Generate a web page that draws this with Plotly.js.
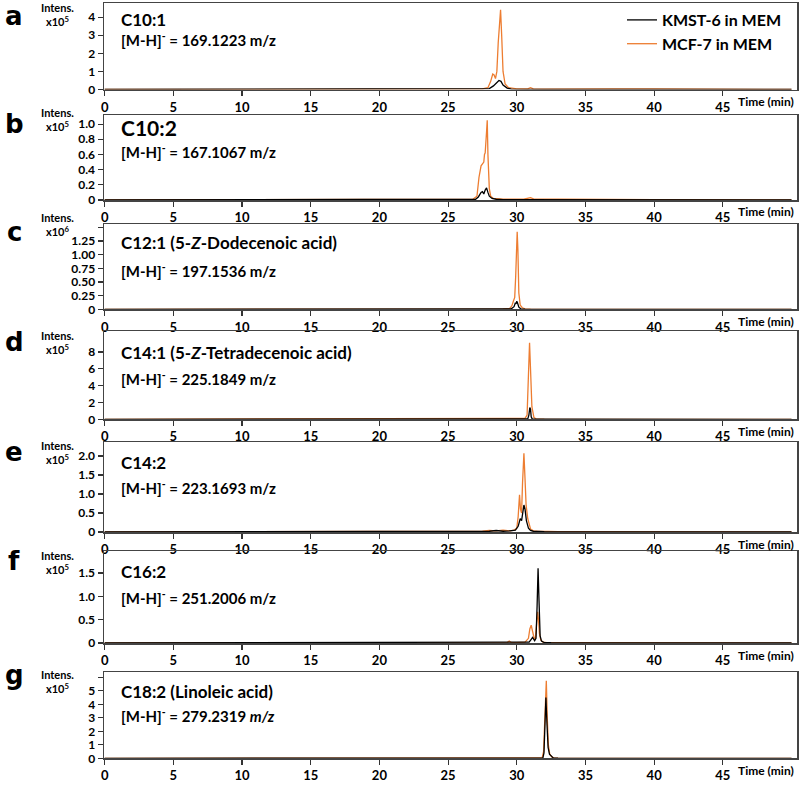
<!DOCTYPE html>
<html><head><meta charset="utf-8">
<script src="https://cdn.plot.ly/plotly-3.0.1.min.js"></script>
<style>html,body{margin:0;padding:0;background:#fff}#chart{width:800px;height:785px}</style>
</head><body><div id="chart"></div>
<script>
// ---------------- DATA ----------------
const seriesNames = ["KMST-6 in MEM", "MCF-7 in MEM"];
const panelLetters = ["a","b","c","d","e","f","g"];
const panelNames = ["C10:1","C10:2","C12:1 (5-<i>Z</i>-Dodecenoic acid)","C14:1 (5-<i>Z</i>-Tetradecenoic acid)","C14:2","C16:2","C18:2 (Linoleic acid)"];
const panelMz = ["169.1223 m/z","167.1067 m/z","197.1536 m/z","225.1849 m/z","223.1693 m/z","251.2006 m/z","279.2319 <i>m/z</i>"];
const panelExp = ["5","5","6","5","5","5","5"];
const xTickVals = [0,5,10,15,20,25,30,35,40,45];

// panel a
const tKmstA = [0, 27.5, 28.0, 28.3, 28.5, 28.7, 28.85, 29.0, 29.3, 29.6, 31, 50];
const kmstA  = [0, 0.01, 0.05, 0.2, 0.35, 0.5, 0.45, 0.25, 0.08, 0.02, 0.01, 0];
const tMcfA  = [0, 26, 27.5, 27.9, 28.1, 28.25, 28.35, 28.45, 28.55, 28.65, 28.75, 28.82, 28.9, 29.0, 29.15, 29.4, 30.0, 30.8, 31.0, 31.2, 32, 35, 37, 40, 43, 50];
const mcfA   = [0, 0.01, 0.03, 0.1, 0.45, 0.85, 0.8, 0.6, 1.0, 2.6, 4.1, 4.4, 3.0, 1.0, 0.3, 0.1, 0.04, 0.03, 0.1, 0.03, 0.02, 0.04, 0.03, 0.03, 0.01, 0];
// panel b
const tKmstB = [0, 26, 27.0, 27.2, 27.4, 27.5, 27.6, 27.7, 27.8, 27.9, 28.0, 28.2, 28.5, 29, 50];
const kmstB  = [0, 0.005, 0.01, 0.04, 0.1, 0.11, 0.08, 0.13, 0.16, 0.1, 0.05, 0.02, 0.01, 0.005, 0];
const tMcfB  = [0, 20, 25, 26.8, 27.1, 27.25, 27.4, 27.5, 27.6, 27.65, 27.7, 27.8, 27.85, 27.9, 28.0, 28.1, 28.3, 29, 30.5, 31.0, 31.3, 33, 36, 40, 50];
const mcfB   = [0, 0.005, 0.01, 0.01, 0.05, 0.3, 0.45, 0.47, 0.5, 0.6, 0.62, 0.9, 1.05, 0.6, 0.15, 0.05, 0.02, 0.01, 0.01, 0.03, 0.01, 0.01, 0.01, 0.005, 0];
// panel c
const tKmstC = [0, 29.0, 29.6, 29.8, 29.9, 29.95, 30.0, 30.05, 30.15, 30.3, 30.6, 50];
const kmstC  = [0, 0.005, 0.01, 0.05, 0.12, 0.1, 0.15, 0.12, 0.04, 0.01, 0.005, 0];
const tMcfC  = [0, 25, 29.0, 29.5, 29.65, 29.75, 29.85, 29.92, 29.98, 30.03, 30.08, 30.15, 30.25, 30.4, 30.6, 31, 50];
const mcfC   = [0, 0.005, 0.01, 0.02, 0.07, 0.15, 0.22, 0.6, 1.2, 1.42, 1.1, 0.3, 0.08, 0.03, 0.01, 0.005, 0];
// panel d
const tKmstD = [0, 30.6, 30.8, 30.88, 30.95, 31.0, 31.05, 31.12, 31.2, 31.5, 50];
const kmstD  = [0, 0.02, 0.05, 0.5, 1.4, 1.2, 0.3, 0.05, 0.02, 0.01, 0];
const tMcfD  = [0, 27, 30.0, 30.6, 30.75, 30.85, 30.93, 31.0, 31.1, 31.25, 31.4, 32, 50];
const mcfD   = [0, 0.03, 0.05, 0.1, 0.5, 4.5, 9.1, 6.0, 1.5, 0.2, 0.05, 0.02, 0];
// panel e
const tKmstE = [0, 27, 28.0, 28.5, 29.0, 29.5, 29.9, 30.1, 30.25, 30.35, 30.45, 30.52, 30.6, 30.7, 30.85, 31.0, 31.2, 32, 50];
const kmstE  = [0, 0.01, 0.02, 0.04, 0.02, 0.03, 0.05, 0.15, 0.35, 0.3, 0.55, 0.71, 0.6, 0.3, 0.1, 0.04, 0.02, 0.01, 0];
const tMcfE  = [0, 26, 27.5, 28.0, 28.5, 29.0, 29.5, 29.8, 30.0, 30.1, 30.2, 30.27, 30.35, 30.42, 30.52, 30.6, 30.68, 30.8, 30.9, 31.0, 31.2, 31.5, 33, 50];
const mcfE   = [0, 0.01, 0.02, 0.04, 0.03, 0.05, 0.03, 0.05, 0.1, 0.4, 0.98, 0.6, 0.5, 1.3, 2.07, 1.4, 0.7, 0.35, 0.2, 0.08, 0.03, 0.02, 0.01, 0];
// panel f
const tKmstF = [0, 30.5, 30.9, 31.05, 31.15, 31.3, 31.4, 31.48, 31.55, 31.62, 31.7, 31.8, 32.0, 32.5, 50];
const kmstF  = [0, 0.005, 0.02, 0.08, 0.12, 0.05, 0.1, 0.8, 1.6, 0.9, 0.15, 0.04, 0.01, 0.005, 0];
const tMcfF  = [0, 28, 29.3, 29.45, 29.6, 30, 30.6, 30.85, 30.95, 31.05, 31.15, 31.25, 31.35, 31.45, 31.52, 31.58, 31.65, 31.75, 31.9, 32.2, 33, 50];
const mcfF   = [0, 0.005, 0.01, 0.04, 0.01, 0.01, 0.02, 0.1, 0.3, 0.38, 0.25, 0.12, 0.08, 0.35, 0.67, 0.5, 0.2, 0.06, 0.02, 0.01, 0.005, 0];
// panel g
const tKmstG = [0, 31.5, 31.9, 31.98, 32.05, 32.12, 32.2, 32.28, 32.38, 32.5, 32.65, 33, 50];
const kmstG  = [0, 0.005, 0.02, 0.4, 3.0, 4.5, 2.5, 0.8, 0.3, 0.15, 0.03, 0.01, 0];
const tMcfG  = [0, 31.5, 31.85, 31.95, 32.05, 32.15, 32.22, 32.3, 32.4, 32.55, 32.7, 33, 50];
const mcfG   = [0, 0.01, 0.03, 0.5, 3.5, 5.75, 3.0, 1.0, 0.3, 0.1, 0.03, 0.01, 0];

// y tick values / labels per panel
const yTickValsA = [0,1,2,3,4];            const yTickTextA = ["0","1","2","3","4"];
const yTickValsB = [0,0.2,0.4,0.6,0.8,1.0]; const yTickTextB = ["0","0.2","0.4","0.6","0.8","1.0"];
const yTickValsC = [0,0.25,0.5,0.75,1.0,1.25]; const yTickTextC = ["0","0.25","0.50","0.75","1.00","1.25"];
const yTickValsD = [0,2,4,6,8];            const yTickTextD = ["0","2","4","6","8"];
const yTickValsE = [0,0.5,1.0,1.5,2.0];    const yTickTextE = ["0","0.5","1.0","1.5","2.0"];
const yTickValsF = [0,0.5,1.0,1.5];        const yTickTextF = ["0","0.5","1.0","1.5"];
const yTickValsG = [0,1,2,3,4,5];          const yTickTextG = ["0","1","2","3","4","5"];
const yMinorStep = [null, null, 0.25, null, null, null, 1];
const yMaxes = [4.78, 1.12, 1.56, 10.5, 2.37, 1.97, 6.4];

// ---------------- BUILD ----------------
const W = 800, H = 785;
const BLACK = "#000000", ORANGE = "#ED7D31";
const FONT = "Lato, 'Open Sans', sans-serif";
const kmstT = [tKmstA,tKmstB,tKmstC,tKmstD,tKmstE,tKmstF,tKmstG];
const kmstY = [kmstA,kmstB,kmstC,kmstD,kmstE,kmstF,kmstG];
const mcfT = [tMcfA,tMcfB,tMcfC,tMcfD,tMcfE,tMcfF,tMcfG];
const mcfY = [mcfA,mcfB,mcfC,mcfD,mcfE,mcfF,mcfG];
const yTV = [yTickValsA,yTickValsB,yTickValsC,yTickValsD,yTickValsE,yTickValsF,yTickValsG];
const yTT = [yTickTextA,yTickTextB,yTickTextC,yTickTextD,yTickTextE,yTickTextF,yTickTextG];

// pixel geometry of panels (top, bottom)
const boxes = [[3,89.5],[115,200],[224,309.4],[331,419.3],[442,532],[551,643],[672,758.3]];
const intensY = [15,120,225,342,452,562,681];
const nameY = [20,128,243,352,462,571,691];
const mzY = [40,152,271,378,487,597,715];
const letterY = [16,124,232,342,452,561,675];
const bigName = [false,true,false,false,false,false,false];
const py = p => 1 - p / H;

const traces = [];
const layout = {
  width: W, height: H, margin: {l:0,r:0,t:0,b:0},
  paper_bgcolor: "#fff", plot_bgcolor: "#fff",
  font: {family: FONT, color: "#000"},
  showlegend: true,
  legend: {x: 622/W, y: py(3), xanchor: "left", yanchor: "top", bgcolor: "rgba(0,0,0,0)",
           font: {family: FONT, size: 16}, itemwidth: 30, tracegroupgap: 0},
  annotations: [], shapes: []
};
for (let i = 0; i < 7; i++) {
  const xa = i === 0 ? "x" : "x" + (i+1);
  const ya = i === 0 ? "y" : "y" + (i+1);
  traces.push({x: mcfT[i], y: mcfY[i], xaxis: xa, yaxis: ya, type: "scatter", mode: "lines",
    name: "<b>" + seriesNames[1] + "</b>", legendrank: 2, showlegend: i === 0,
    line: {color: ORANGE, width: 1.3}, hoverinfo: "skip"});
  traces.push({x: kmstT[i], y: kmstY[i], xaxis: xa, yaxis: ya, type: "scatter", mode: "lines",
    name: "<b>" + seriesNames[0] + "</b>", legendrank: 1, showlegend: i === 0,
    line: {color: BLACK, width: 1.3}, hoverinfo: "skip"});
  const [top, bot] = boxes[i];
  const xk = i === 0 ? "xaxis" : "xaxis" + (i+1);
  const yk = i === 0 ? "yaxis" : "yaxis" + (i+1);
  layout[xk] = {domain: [104/W, 797/W], anchor: ya, range: [-0.05, 50.4],
    tickmode: "array", tickvals: xTickVals, ticks: "outside", ticklen: 5, tickwidth: 1.2, tickcolor: "#333",
    showline: true, linecolor: "#444", linewidth: 1.5, mirror: true, showgrid: false, zeroline: false,
    tickfont: {family: FONT, size: 13, weight: "bold", color: "#000"}};
  layout[yk] = {domain: [py(bot), py(top)], anchor: xa, range: [0, yMaxes[i]],
    tickmode: "array", tickvals: yTV[i], ticktext: yTT[i], ticks: "outside", ticklen: 5, tickwidth: 1.2, tickcolor: "#333",
    showline: true, linecolor: "#444", linewidth: 1.5, mirror: true, showgrid: false, zeroline: false,
    tickfont: {family: FONT, size: 12, weight: "bold", color: "#000"}};
  if (yMinorStep[i]) {
    layout[yk].minor = {tickmode: "linear", tick0: 0, dtick: yMinorStep[i], ticks: "outside", ticklen: 5,
      tickwidth: 1.2, tickcolor: "#333", showgrid: false};
  }
  const A = layout.annotations;
  A.push({xref:"paper", yref:"paper", x: 14/W, y: py(letterY[i]), xanchor:"center", yanchor:"middle", showarrow:false,
    text: "<b>" + panelLetters[i] + "</b>", font: {family: "DejaVu Sans", size: 26, color:"#000"}});
  A.push({xref:"paper", yref:"paper", x: 58/W, y: py(intensY[i]), xanchor:"center", yanchor:"middle", showarrow:false,
    align: "center", text: "<b>Intens.</b><br><b>x10<sup>" + panelExp[i] + "</sup></b>",
    font: {family: FONT, size: 11, color:"#000"}});
  A.push({xref:"paper", yref:"paper", x: 119/W, y: py(nameY[i]), xanchor:"left", yanchor:"middle", showarrow:false,
    text: "<b>" + panelNames[i] + "</b>", font: {family: FONT, size: bigName[i] ? 21 : 17, color:"#000"}});
  A.push({xref:"paper", yref:"paper", x: 119/W, y: py(mzY[i]), xanchor:"left", yanchor:"middle", showarrow:false,
    text: "<b>[M-H]<sup>-</sup> = " + panelMz[i] + "</b>", font: {family: FONT, size: 15, color:"#000"}});
  A.push({xref:"paper", yref:"paper", x: 796/W, y: py(bot + 12), xanchor:"right", yanchor:"middle", showarrow:false,
    text: "<b>Time (min)</b>", font: {family: FONT, size: 12, color:"#000"}});
}
Plotly.newPlot("chart", traces, layout, {staticPlot: true, displayModeBar: false});
</script>
</body></html>
